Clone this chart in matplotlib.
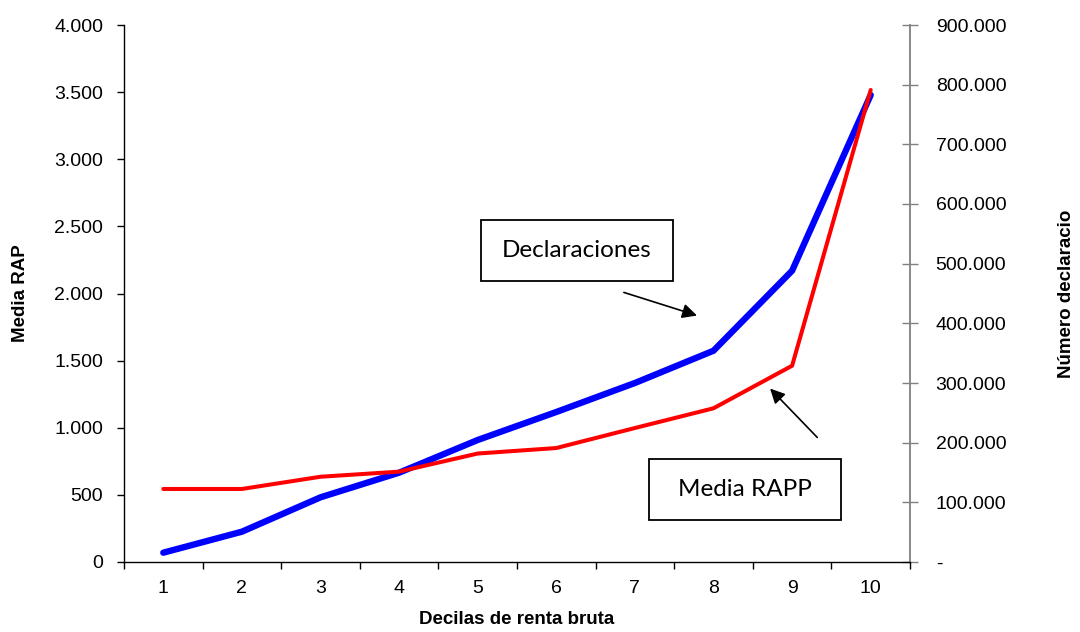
import matplotlib
matplotlib.use("Agg")
import matplotlib.pyplot as plt
from matplotlib.ticker import FixedLocator, FuncFormatter
from matplotlib.patches import Rectangle

# Income deciles
decilas = [1, 2, 3, 4, 5, 6, 7, 8, 9, 10]
# Average RAPP per decile (left axis)
media_rapp = [544, 544, 635, 673, 808, 849, 998, 1145, 1462, 3516]
# Number of tax returns per decile (right axis)
declaraciones = [15600, 50800, 108400, 149700, 204500, 251400, 300000, 354100, 488200, 782700]

left_ticks = [0, 500, 1000, 1500, 2000, 2500, 3000, 3500, 4000]
right_ticks = [0, 100000, 200000, 300000, 400000, 500000, 600000, 700000, 800000, 900000]

RED = "#ff0000"
BLUE = "#0000ff"
GREY = "#808080"
TICK_FONT = "Liberation Sans"
BOX_FONT = "Lato"
TICK_SIZE = 14


def miles(v, _pos=None):
    return f"{int(round(v)):,}".replace(",", ".")


def miles_guion(v, _pos=None):
    if abs(v) < 1e-9:
        return "-"
    return miles(v)


fig = plt.figure(figsize=(10.8, 6.32), dpi=100)
ax = fig.add_axes([124 / 1080, 1 - 562 / 632, (910 - 124) / 1080, (562 - 25) / 632])
ax2 = ax.twinx()

# Red series on the left axes, kept above the blue one
ax.set_zorder(ax2.get_zorder() + 1)
ax.patch.set_visible(False)

ax2.plot(decilas, declaraciones, color=BLUE, lw=4.6, solid_capstyle="round",
         solid_joinstyle="miter")
ax.plot(decilas, media_rapp, color=RED, lw=2.9, solid_capstyle="round",
        solid_joinstyle="miter")

ax.set_xlim(0.5, 10.5)
ax.set_ylim(left_ticks[0], left_ticks[-1])
ax2.set_ylim(right_ticks[0], right_ticks[-1])

# X axis: category labels centred, tick marks between categories
ax.set_xticks(decilas)
ax.set_xticklabels([str(d) for d in decilas], fontfamily=TICK_FONT, fontsize=TICK_SIZE)
ax.xaxis.set_minor_locator(FixedLocator([d - 0.5 for d in decilas] + [decilas[-1] + 0.5]))
ax.tick_params(axis="x", which="major", length=0, pad=13)
ax.tick_params(axis="x", which="minor", length=5, width=1, color="black", direction="out")

ax.set_yticks(left_ticks)
ax.yaxis.set_major_formatter(FuncFormatter(miles))
ax.tick_params(axis="y", length=5, width=1, direction="out", pad=10, labelsize=TICK_SIZE)
for lab in ax.get_yticklabels():
    lab.set_fontfamily(TICK_FONT)

ax2.set_yticks(right_ticks)
ax2.yaxis.set_major_formatter(FuncFormatter(miles_guion))
ax2.tick_params(axis="y", length=11, width=1, direction="inout", color=GREY,
                pad=13, labelsize=TICK_SIZE)
for lab in ax2.get_yticklabels():
    lab.set_fontfamily(TICK_FONT)

for a in (ax, ax2):
    a.spines["top"].set_visible(False)
ax.spines["right"].set_visible(False)
ax2.spines["left"].set_visible(False)
ax2.spines["bottom"].set_visible(False)
ax2.spines["right"].set_color(GREY)
ax2.spines["right"].set_linewidth(1.3)
ax.spines["left"].set_linewidth(1.0)
ax.spines["bottom"].set_linewidth(1.0)

label_kw = dict(fontfamily=TICK_FONT, fontweight="bold", fontsize=13.5)
ax.set_xlabel("Decilas de renta bruta", va="center", **label_kw)
ax.xaxis.set_label_coords(0.5, -0.108)
ax.set_ylabel("Media RAP", va="center", **label_kw)
ax.yaxis.set_label_coords(-0.132, 0.5)
ax2.set_ylabel("Número declaracio", rotation=90, va="center", **label_kw)
ax2.yaxis.set_label_coords(1.199, 0.5)

# Callout boxes with arrows
boxes = [
    ("Declaraciones", (0.454, 0.524), (0.636, 0.502), (0.729, 0.459)),
    ("Media RAPP", (0.668, 0.078), (0.882, 0.232), (0.822, 0.323)),
]
bw, bh = 0.244, 0.113
for text, (x0, y0), start, end in boxes:
    ax.add_patch(Rectangle((x0, y0), bw, bh, transform=ax.transAxes, facecolor="white",
                           edgecolor="black", lw=1.3, zorder=5))
    ax.text(x0 + bw / 2, y0 + bh / 2, text, transform=ax.transAxes, ha="center",
            va="center", fontfamily=BOX_FONT, fontsize=17.5, zorder=6)
    ax.annotate("", xy=end, xytext=start, xycoords="axes fraction",
                textcoords="axes fraction",
                arrowprops=dict(arrowstyle="-|>", color="black", lw=1.2,
                                mutation_scale=22, shrinkA=0, shrinkB=0))

fig.savefig("out.png", dpi=100, facecolor="white")
